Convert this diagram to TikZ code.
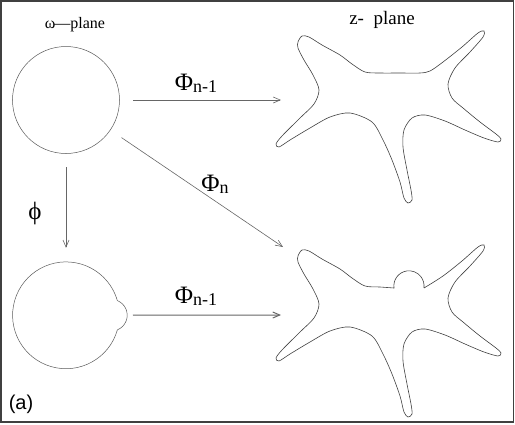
\documentclass[tikz,border=0pt]{standalone}
\usepackage{fontspec}
\setmainfont{Liberation Serif}
\newfontfamily\tagfont{Liberation Sans}
\usetikzlibrary{positioning, arrows.meta}
\tikzset{
map/.style={-{Straight Barb[length=7pt,width=6pt]}, draw=black!60, line width=0.6pt, shorten <=67pt}, % arrow between two planes
disk/.style={circle, draw=black!65, line width=0.5pt, minimum size=107pt, inner sep=0pt}, % the unit disk
outline/.style={draw=black!75, line width=0.6pt}, % boundary curves
}
\newcommand{\mapname}[1]{{\fontsize{25}{25}\selectfont Φ}\raisebox{-2pt}{\fontsize{18}{18}\selectfont #1}}

\begin{document}
\begin{tikzpicture}[x=1pt, y=-1pt]
\useasboundingbox (0,0) rectangle (515,424);
\draw[black!75, line width=1.4pt] (1,1) rectangle (513.5,422);

% omega plane
\node[disk] (w1) at (66,100) {};
\node[disk, draw=none, below=107.8pt of w1] (w2) {};
\draw[outline, draw=black!65, line width=0.5pt] (w2.center) ++(16:53.4) arc[start angle=16, end angle=344, radius=53.4]
  arc[start angle=-68, end angle=68, radius=15.8] -- cycle;

% z plane
\coordinate (z1in) at (281,100);
\coordinate (z2in) at (283,247);
\coordinate (z2mid) at (281,315);
\draw[outline] plot[smooth cycle] coordinates {(298,42) (302,36) (309,37) (322,45) (340,55) (352,64) (365,72) (380,73) (400,73) (420,73) (430,71) (443,62) (462,47) (478,33) (484,31) (483,37) (470,52) (455,68) (448,84) (452,98) (463,108) (480,122) (496,134) (501,139) (498,142) (484,138) (465,130) (445,121) (425,115) (412,118) (404,130) (403,147) (407,170) (411,190) (412,200) (408,203) (404,198) (400,182) (392,160) (383,140) (372,122) (350,113) (330,117) (310,128) (290,140) (279,147) (276,144) (282,136) (300,118) (314,104) (319,90) (313,75) (304,60) (298,48)};
\begin{scope}[yshift=-214pt]
\draw[outline] plot[smooth] coordinates {(424,74) (443,62) (462,47) (478,33) (484,31) (483,37) (470,52) (455,68) (448,84) (452,98) (463,108) (480,122) (496,134) (501,139) (498,142) (484,138) (465,130) (445,121) (425,115) (412,118) (404,130) (403,147) (407,170) (411,190) (412,200) (408,203) (404,198) (400,182) (392,160) (383,140) (372,122) (350,113) (330,117) (310,128) (290,140) (279,147) (276,144) (282,136) (300,118) (314,104) (319,90) (313,75) (304,60) (298,48) (298,42) (302,36) (309,37) (322,45) (340,55) (352,64) (365,72) (380,73) (394,74)}
  arc[start angle=172, end angle=368, radius=15.1];
\end{scope}

% maps
\draw[map] (w1.center) -- (z1in);
\draw[map] (w1.center) -- (z2in);
\draw[map, shorten >=67.5pt] (w1.center) -- (w2.center);
\draw[map, line width=1pt] (w2.center) -- (z2mid);

% labels
\node (wlabel) at (75,25) {\fontsize{16}{16}\selectfont ω\kern-1pt—plane};
\node (zlabel) at (382,20) {\fontsize{19}{19}\selectfont z-\ \ plane};
\node (top) at (196,83) {\mapname{n-1}};
\node (diag) at (215,184) {\mapname{n}};
\node (bottom) at (196,296) {\mapname{n-1}};
\node (phi) at (35,213) {\fontsize{25}{25}\selectfont ϕ};
\node (tag) at (21,404) {\tagfont\fontsize{20}{20}\selectfont (a)};
\end{tikzpicture}
\end{document}
